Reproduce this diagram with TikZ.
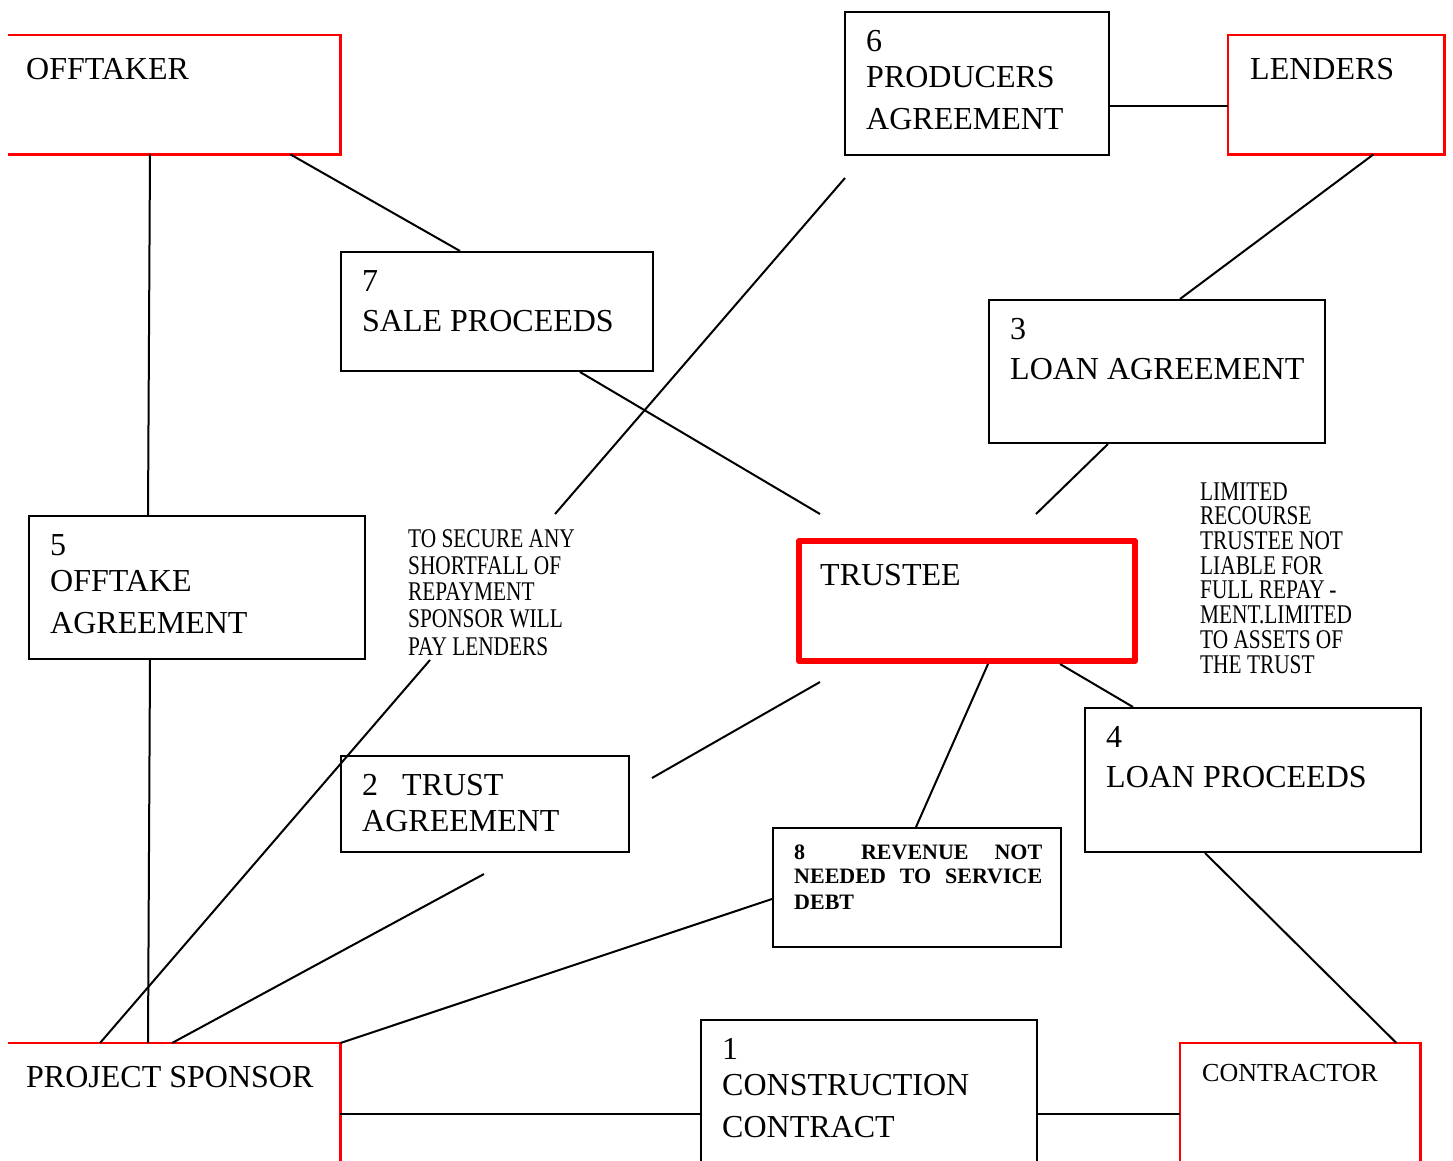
\documentclass[tikz,border=0pt]{standalone}
\usepackage{fontspec}
\setmainfont{Liberation Serif}
\newfontfamily\narrowserif[FakeStretch=0.79]{Liberation Serif}
\newcommand\bigtxt{\fontsize{32}{36}\selectfont}
\newcommand\partytxt{\fontsize{26}{30}\selectfont}
\newcommand\revtxt{\fontsize{22}{24.5}\selectfont\bfseries}
\newcommand\notetxt{\narrowserif\fontsize{27}{26.5}\selectfont}
\newcommand\limtxt{\narrowserif\fontsize{27}{24.7}\selectfont}

\begin{document}
\begin{tikzpicture}[x=1pt,y=-1pt,
	box/.style={draw, line width=2pt, inner sep=0pt, anchor=north west},
	party/.style={inner sep=0pt, anchor=north west},
	redline/.style={draw=red, line width=2.2pt},
	boxtext/.style={anchor=base west, inner sep=0pt, align=left, font=\bigtxt},
	link/.style={line width=2pt}]
	\clip (0,0) rectangle (1453,1160);

	% parties (red, partly cut off)
	\node[party, minimum width=332pt, minimum height=119pt] (offtaker) at (8,35) {};
	\node[party, minimum width=216pt, minimum height=119pt] (lenders) at (1228,35) {};
	\node[party, minimum width=332pt, minimum height=140pt] (sponsor) at (8,1043) {};
	\node[party, minimum width=240pt, minimum height=140pt] (contractor) at (1180,1043) {};
	\draw[redline] (offtaker.north west) -- (offtaker.north east) -- (offtaker.south east) -- (offtaker.south west);
	\draw[redline] (lenders.north west) rectangle (lenders.south east);
	\draw[redline] (sponsor.north west) -- (sponsor.north east) -- (sponsor.south east);
	\draw[redline] (contractor.south west) -- (contractor.north west) -- (contractor.north east) -- (contractor.south east);

	% agreements
	\node[box, minimum width=264pt, minimum height=143pt] (prod) at (844,11) {};
	\node[box, minimum width=312pt, minimum height=119pt] (sale) at (340,251) {};
	\node[box, minimum width=336pt, minimum height=143pt] (loan) at (988,299) {};
	\node[box, minimum width=336pt, minimum height=143pt] (offtake) at (28,515) {};
	\node[box, minimum width=288pt, minimum height=96pt] (trust) at (340,755) {};
	\node[box, minimum width=336pt, minimum height=144pt] (proceeds) at (1084,707) {};
	\node[box, minimum width=288pt, minimum height=119pt] (rev) at (772,827) {};
	\node[box, minimum width=336pt, minimum height=160pt] (cons) at (700,1019) {};
	\node[box, draw=red, line width=6pt, line join=round, minimum width=336pt, minimum height=120pt] (trustee) at (796,538) {};

	% texts (anchored at the baseline of the last line)
	\node[boxtext] (toff) at (26,79) {OFFTAKER};
	\node[boxtext] (tlend) at (1250,79) {LENDERS};
	\node[boxtext] (tspon) at (26,1087) {PROJECT SPONSOR};
	\node[boxtext, font=\partytxt] (tcontr) at (1202,1081) {CONTRACTOR};
	\node[boxtext] (ttrustee) at (820,585) {TRUSTEE};
	\node[boxtext] (tprod) at (866,129) {6\\PRODUCERS\\[6pt]AGREEMENT};
	\node[boxtext] (tsale) at (362,331) {7\\[4pt]SALE PROCEEDS};
	\node[boxtext] (tloan) at (1010,379) {3\\[4pt]LOAN AGREEMENT};
	\node[boxtext] (toffa) at (50,633) {5\\OFFTAKE\\[6pt]AGREEMENT};
	\node[boxtext] (ttrust) at (362,831) {2\hspace*{24pt}TRUST\\AGREEMENT};
	\node[boxtext] (tproc) at (1106,787) {4\\[4pt]LOAN PROCEEDS};
	\node[boxtext] (tcons) at (722,1137) {1\\CONSTRUCTION\\[6pt]CONTRACT};
	\node[boxtext, font=\revtxt] (trev) at (794,909)
		{\makebox[248pt][s]{8\hspace*{30pt} REVENUE NOT}\\
		 \makebox[248pt][s]{NEEDED TO SERVICE}\\[1pt]
		 DEBT};
	\node[boxtext, font=\notetxt] (tsecure) at (408,655)
		{TO SECURE ANY\\SHORTFALL OF\\REPAYMENT\\SPONSOR WILL\\[1.5pt]PAY LENDERS};
	\node[boxtext, font=\limtxt] (tlimited) at (1200,673)
		{LIMITED\\RECOURSE\\TRUSTEE NOT\\LIABLE FOR\\FULL REPAY\,-\\MENT.LIMITED\\TO ASSETS OF\\THE TRUST};

	% loose ends
	\coordinate (c3) at (820,514);
	\coordinate (c4a) at (845,178);
	\coordinate (c4b) at (555,514);
	\coordinate (c7) at (1036,514);
	\coordinate (c9) at (430,660);
	\coordinate (c10a) at (820,682);
	\coordinate (c10b) at (652,778);
	\coordinate (c11) at (484,874);

	% connectors
	\draw[link] ([xshift=142pt]offtaker.south west) -- ([xshift=120pt]offtake.north west);
	\draw[link] ([xshift=-50pt]offtaker.south east) -- ([xshift=120pt]sale.north west);
	\draw[link] ([xshift=240pt]sale.south west) -- (c3);
	\draw[link] (c4a) -- (c4b);
	\draw[link] ([yshift=-95pt]prod.north east) -- ([yshift=-95pt]prod.north east -| lenders.west);
	\draw[link] ([xshift=-71pt]lenders.south east) -- ([xshift=192pt]loan.north west);
	\draw[link] ([xshift=120pt]loan.south west) -- (c7);
	\draw[link] ([xshift=122pt]offtake.south west) -- ([xshift=140pt]sponsor.north west);
	\draw[link] (c9) -- ([xshift=92pt]sponsor.north west);
	\draw[link] (c10a) -- (c10b);
	\draw[link] (c11) -- ([xshift=164pt]sponsor.north west);
	\draw[link] ([xshift=192pt]trustee.south west) -- ([xshift=144pt]rev.north west);
	\draw[link] ([xshift=264pt]trustee.south west) -- ([xshift=49pt]proceeds.north west);
	\draw[link] ([yshift=-72pt]rev.north west) -- (sponsor.north east);
	\draw[link] ([xshift=121pt]proceeds.south west) -- ([xshift=-24pt]contractor.north east);
	\draw[link] ([yshift=-71pt]sponsor.north east) -- ([yshift=-71pt]sponsor.north east -| cons.west);
	\draw[link] ([yshift=-71pt]contractor.north west) -- ([yshift=-71pt]contractor.north west -| cons.east);
\end{tikzpicture}
\end{document}
